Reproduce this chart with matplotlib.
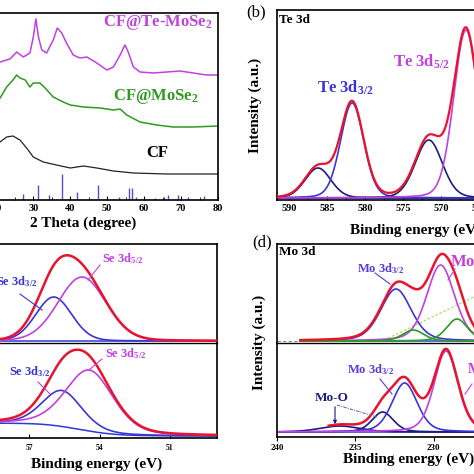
import numpy as np
import matplotlib
matplotlib.use("Agg")
import matplotlib.pyplot as plt
from matplotlib.lines import Line2D

plt.rcParams["font.family"] = "Liberation Serif"
plt.rcParams["font.weight"] = "bold"
plt.rcParams["mathtext.fontset"] = "custom"
plt.rcParams["mathtext.rm"] = "Liberation Serif:bold"
plt.rcParams["mathtext.it"] = "Liberation Serif:bold:italic"
plt.rcParams["mathtext.bf"] = "Liberation Serif:bold"

W = H = 474

# ---------------- (a) XRD ----------------
TT_TE = [21, 23.7, 25.5, 27.3, 29.1, 30.0, 30.7, 31.4, 32.3, 33.6, 35.4, 36.5, 37.7, 39.0,
         40.8, 42.6, 44.5, 47.2, 49.9, 51.7, 53.5, 54.8, 55.7, 57.1, 58.9, 62.5, 66.1,
         69.7, 73.3, 76.9, 80]
I_TE = [138, 141, 148, 143, 147, 163, 181, 163, 150, 147, 160, 172, 167, 157,
        145, 142, 143, 137, 130, 133, 145, 155, 148, 133, 128, 127, 128,
        129, 127, 125, 125]

TT_MOSE2 = [21, 22.8, 24.5, 25.5, 26.4, 27.8, 29.1, 30.0, 31.8, 33.2, 35.4, 38.1, 40.0,
            43.6, 48.1, 51.7, 53.5, 55.3, 58.9, 63.4, 67.9, 73.3, 80]
I_MOSE2 = [102, 113, 120, 125, 122, 120, 113, 117, 117, 112, 103, 98, 95,
           93, 92, 90, 91, 85, 78, 75, 73, 73, 74]

TT_CF = [21, 22.8, 24.5, 26.4, 28.2, 30.0, 32.7, 36.3, 40.0, 43.6, 47.2, 51.7, 57.1, 66.1, 80]
I_CF = [58, 63, 64, 60, 52, 43, 38, 35, 32, 34, 32, 29, 27, 26, 26]

REF_POS = [27.3, 31.2, 34.2, 37.8, 41.7, 47.4, 53.2, 55.8, 56.6, 57.8,
           63.0, 65.5, 66.4, 69.3, 72.0, 76.3]
REF_H = [6, 15, 5, 26, 8, 15, 3, 12, 12, 3, 2, 3, 5, 5, 3, 4]

# ---------------- (b) Te 3d: centre (eV), height, FWHM ----------------
TE_CENTRE = [586.2, 581.7, 571.6, 566.7]
TE_HEIGHT = [30, 95, 58, 168]
TE_FWHM = [4.0, 3.6, 4.2, 3.8]
TE_KIND = ["navy", "blue", "navy", "violet"]
TE_BASE = 2

# ---------------- (c) Se 3d ----------------
SE_TOP_CENTRE = [55.95, 54.75]
SE_TOP_HEIGHT = [44, 64]
SE_TOP_FWHM = [1.8, 2.4]
SE_TOP_BASE = 2

SE_BOT_CENTRE = [55.6, 54.43]
SE_BOT_HEIGHT = [36, 61]
SE_BOT_FWHM = [2.0, 2.4]
SE_BOT_BASE = 2
SE_BOT_STEP = 13

# ---------------- (d) Mo 3d ----------------
MO_TOP_CENTRE = [232.4, 229.55, 231.3, 228.5]
MO_TOP_HEIGHT = [52, 76, 11, 22]
MO_TOP_FWHM = [2.3, 2.1, 1.6, 1.6]
MO_TOP_KIND = ["blue", "violet", "green", "green"]
MO_TOP_BASE = 2
MO_TOP_SE3S_E = [233.4, 223.2]
MO_TOP_SE3S_I = [1, 78]

MO_BOT_CENTRE = [236.0, 233.25, 231.85, 229.2]
MO_BOT_HEIGHT = [6, 20, 49, 81]
MO_BOT_FWHM = [3.0, 1.6, 1.9, 1.8]
MO_BOT_KIND = ["navy", "navy", "blue", "violet"]
MO_BOT_BASE = 5

C_RED = "#e8132c"
C_VIOLET = "#c040e0"
C_BLUE = "#3b35d6"
C_NAVY = "#1c1c82"
C_BASE = "#2a3ad8"
C_GREEN = "#2e9a1e"
C_LGREEN = "#a8dc70"
C_STICK = "#5b4fc4"
COLORS = {"navy": C_NAVY, "blue": C_BLUE, "violet": C_VIOLET, "green": C_GREEN}


def pv(x, c, h, w, eta):
    u = ((x - c) / w) ** 2
    return h * ((1 - eta) * np.exp(-4 * np.log(2) * u) + eta / (1 + 4 * u))


def box(l, t, r, b):
    return [l / W, 1 - b / H, (r - l) / W, (b - t) / H]


def ftext(x, y, s, color="black", size=11, ha="center", **kw):
    fig.text(x / W, 1 - y / H, s, color=color, fontsize=size, ha=ha, va="center",
             fontweight=kw.pop("weight", "bold"), **kw)


def leader(x1, y1, x2, y2, color, **kw):
    fig.add_artist(Line2D([x1 / W, x2 / W], [1 - y1 / H, 1 - y2 / H],
                          transform=fig.transFigure, color=color, lw=0.8, **kw))


def style(ax, lw=1.2):
    for s in ax.spines.values():
        s.set_linewidth(lw)
    ax.set_yticks([])


fig = plt.figure(figsize=(W / 100, H / 100), dpi=100)

# ---- (a)
ax = fig.add_axes(box(-40.6, 13, 218, 200))
ax.plot(TT_TE, I_TE, color=C_VIOLET, lw=1.1)
ax.plot(TT_MOSE2, I_MOSE2, color=C_GREEN, lw=1.1)
ax.plot(TT_CF, I_CF, color="#222222", lw=0.9)
ax.vlines(REF_POS, 0, REF_H, color=C_STICK, lw=1.0)
ax.set_xlim(10, 80)
ax.set_ylim(0, 187)
ax.set_xticks(range(10, 81, 10))
ax.set_xticks(range(15, 80, 10), minor=True)
ax.tick_params(axis="x", which="both", direction="in", top=False, labelsize=7.5, pad=3)
ax.tick_params(axis="x", which="major", length=3)
ax.tick_params(axis="x", which="minor", length=2)
style(ax)
ftext(158, 22, "CF@Te-MoSe$_2$", C_VIOLET, 12)
ftext(156, 96, "CF@MoSe$_2$", C_GREEN, 12)
ftext(157, 153, "CF", "black", 12)
ftext(30, 223, "2 Theta (degree)", size=11, ha="left")

# ---- (b)
ax = fig.add_axes(box(277, 10, 554, 200))
e = np.linspace(591.6, 555.1, 800)
total = np.full_like(e, TE_BASE, dtype=float)
ax.plot(e, total, color=C_BASE, lw=1.1)
for c, h, w, k in zip(TE_CENTRE, TE_HEIGHT, TE_FWHM, TE_KIND):
    y = pv(e, c, h, w, 0.15)
    total = total + y
    ax.plot(e, TE_BASE + y, color=COLORS[k], lw=1.2)
ax.plot(e, total, color=C_RED, lw=1.6, zorder=3)
ax.set_xlim(591.6, 555.1)
ax.set_ylim(0, 190)
ax.set_xticks([590, 585, 580, 575, 570, 565, 560])
ax.set_xticks(np.arange(587.5, 555, -5), minor=True)
ax.tick_params(axis="x", which="both", direction="in", top=False, labelsize=7.5, pad=3)
ax.tick_params(axis="x", which="major", length=3)
ax.tick_params(axis="x", which="minor", length=2)
style(ax)
ftext(256, 12, "(b)", size=12, weight="normal")
ftext(279, 20, "Te 3d", size=9.5, ha="left")
ftext(255, 105, "Intensity (a.u.)", size=11, rotation=90)
ftext(350, 230, "Binding energy (eV)", size=11, ha="left")
ftext(345, 88, "Te 3d$_{3/2}$", C_BLUE, 12)
ftext(421, 62, "Te 3d$_{5/2}$", C_VIOLET, 12)

# ---- (c)
ax_t = fig.add_axes(box(-40, 244, 217, 343))
ax_b = fig.add_axes(box(-40, 343, 217, 438))
e = np.linspace(59.94, 49.0, 800)
total = np.full_like(e, SE_TOP_BASE, dtype=float)
ax_t.plot(e, total, color=C_BASE, lw=1.1)
for c, h, w, k in zip(SE_TOP_CENTRE, SE_TOP_HEIGHT, SE_TOP_FWHM, ["blue", "violet"]):
    y = pv(e, c, h, w, 0.1)
    total = total + y
    ax_t.plot(e, SE_TOP_BASE + y, color=COLORS[k], lw=1.2)
ax_t.plot(e, total, color=C_RED, lw=1.8, zorder=3)

# Shirley-type step background
peaks = [pv(e, c, h, w, 0.3) for c, h, w in zip(SE_BOT_CENTRE, SE_BOT_HEIGHT, SE_BOT_FWHM)]
s = np.sum(peaks, axis=0)
cum = np.cumsum(s[::-1])[::-1]
bg = SE_BOT_BASE + SE_BOT_STEP * cum / cum[0]
ax_b.plot(e, bg, color=C_BASE, lw=1.1)
for y, k in zip(peaks, ["blue", "violet"]):
    ax_b.plot(e, bg + y, color=COLORS[k], lw=1.2)
ax_b.plot(e, bg + s, color=C_RED, lw=1.8, zorder=3)

for a, top in ((ax_t, 99), (ax_b, 95)):
    a.set_xlim(59.94, 49.0)
    a.set_ylim(0, top)
    style(a)
ax_t.spines["bottom"].set_visible(False)
ax_b.spines["top"].set_linewidth(1.0)
ax_t.set_xticks([])
ax_b.set_xticks([57, 54, 51])
ax_b.tick_params(axis="x", direction="in", length=3, labelsize=5.5, pad=4)
ftext(97, 464, "Binding energy (eV)", size=11)
ftext(123, 259, "Se 3d$_{5/2}$", C_VIOLET, 9)
ftext(17, 282, "Se 3d$_{3/2}$", C_BLUE, 9)
ftext(126, 354, "Se 3d$_{5/2}$", C_VIOLET, 9)
ftext(30, 372, "Se 3d$_{3/2}$", C_BLUE, 9)
leader(100, 265, 88, 280, C_VIOLET)
leader(20, 294, 42, 310, C_BLUE)
leader(102, 359, 89, 370, C_VIOLET)
leader(38, 382, 50, 394, "#9a50e0")

# ---- (d)
ax_t = fig.add_axes(box(277, 244, 540, 343))
ax_b = fig.add_axes(box(277, 343, 540, 437))
e = np.linspace(238.5, 223.2, 800)
total = np.full_like(e, MO_TOP_BASE, dtype=float)
ax_t.plot([240, 238.5], [MO_TOP_BASE, MO_TOP_BASE], color="#888888", lw=0.8, ls=(0, (3, 2)))
ax_t.plot(e, total, color=C_BASE, lw=1.1)
ax_t.plot(MO_TOP_SE3S_E, MO_TOP_SE3S_I, color=C_LGREEN, lw=0.9, ls=(0, (2, 1.5)))
for c, h, w, k in zip(MO_TOP_CENTRE, MO_TOP_HEIGHT, MO_TOP_FWHM, MO_TOP_KIND):
    y = pv(e, c, h, w, 0.3)
    total = total + y
    ax_t.plot(e, MO_TOP_BASE + y, color=COLORS[k], lw=1.2)
ax_t.plot(e, total, color=C_RED, lw=1.8, zorder=3)

e = np.linspace(240, 223.2, 800)
total = np.full_like(e, MO_BOT_BASE, dtype=float)
ax_b.plot(e, total, color=C_BASE, lw=1.1)
for c, h, w, k in zip(MO_BOT_CENTRE, MO_BOT_HEIGHT, MO_BOT_FWHM, MO_BOT_KIND):
    y = pv(e, c, h, w, 0.3)
    total = total + y
    ax_b.plot(e, MO_BOT_BASE + y, color=COLORS[k], lw=1.2)
m = e <= 236.7
ax_b.plot(e[m], total[m], color=C_RED, lw=1.8, zorder=3)

for a, top in ((ax_t, 99), (ax_b, 94)):
    a.set_xlim(240, 223.2)
    a.set_ylim(0, top)
    style(a)
ax_t.spines["bottom"].set_visible(False)
ax_b.spines["top"].set_linewidth(1.0)
ax_t.set_xticks([])
ax_b.set_xticks([240, 235, 230, 225])
ax_b.tick_params(axis="x", direction="out", length=3, labelsize=6.5, pad=2)
ftext(262, 242, "(d)", size=12, weight="normal")
ftext(279, 252, "Mo 3d", size=9.5, ha="left")
ftext(259, 342, "Intensity (a.u.)", size=11, rotation=90)
ftext(343, 459, "Binding energy (eV)", size=11, ha="left")
ftext(381, 269, "Mo 3d$_{3/2}$", "#5a3ad8", 9)
ftext(450, 262, "Mo 3d$_{5/2}$", C_VIOLET, 12, ha="left")
ftext(371, 370, "Mo 3d$_{3/2}$", "#5a3ad8", 9)
ftext(467, 370, "Mo 3d$_{5/2}$", C_VIOLET, 10, ha="left")
ftext(332, 398, "Mo-O", C_NAVY, 9.5)
leader(375, 273, 390, 284, "#5a3ad8")
leader(455, 269, 448, 280, C_VIOLET)
leader(380, 379, 392, 394, "#5a3ad8")
leader(472, 384, 465, 394, C_VIOLET)
leader(337, 405, 377, 417, "#6070a0", ls=(0, (3, 1, 1, 1)))
fig.add_artist(matplotlib.patches.FancyArrowPatch(
    (335 / W, 1 - 404 / H), (335 / W, 1 - 427 / H), transform=fig.transFigure,
    arrowstyle="-|>", mutation_scale=5, color=C_NAVY, lw=0.8))

fig.savefig("out.png", dpi=100)
